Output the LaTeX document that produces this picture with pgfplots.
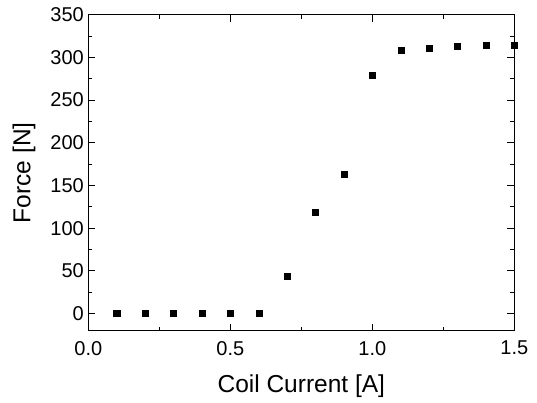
\documentclass[border=0pt]{standalone}
\usepackage{fontspec}
\setmainfont{Liberation Sans}
\usepackage{pgfplots}
\pgfplotsset{compat=1.18}

\begin{document}
\begin{tikzpicture}
    \begin{axis}[
        scale only axis,
        width=426pt, height=316pt,
        xmin=0, xmax=1.5,
        ymin=-20, ymax=350,
        xtick={0,0.5,1.0,1.5},
        xticklabels={0.0,0.5,1.0,1.5},
        ytick={0,50,...,350},
        minor x tick num=1,
        minor y tick num=1,
        tick align=inside,
        major tick length=7pt,
        minor tick length=4pt,
        axis line style={line width=1.2pt},
        every tick/.style={black, line width=0.9pt},
        /pgf/number format/assume math mode=true,
        ticklabel style={font=\fontsize{20}{23}\selectfont},
        xticklabel style={yshift=-7pt},
        yticklabel style={xshift=-1pt},
        label style={font=\fontsize{24.5}{28}\selectfont},
        xlabel={Coil Current [A]},
        ylabel={Force [N]},
        xlabel style={yshift=-12pt},
        ylabel style={yshift=8pt},
    ]
    \addplot[only marks, mark=square*, mark size=3pt, black] coordinates {
        (0.1,0)
        (0.2,0)
        (0.3,0)
        (0.4,0)
        (0.5,0)
        (0.6,0)
        (0.7,43.7)
        (0.8,119.3)
        (0.9,163)
        (1.0,278.6)
        (1.1,308.8)
        (1.2,310.5)
        (1.3,312.8)
        (1.4,314.3)
        (1.5,314.3)
    };
    \end{axis}
    \path[use as bounding box] (-88.3pt,-72.3pt) rectangle (448.7pt,330.7pt);
\end{tikzpicture}
\end{document}
